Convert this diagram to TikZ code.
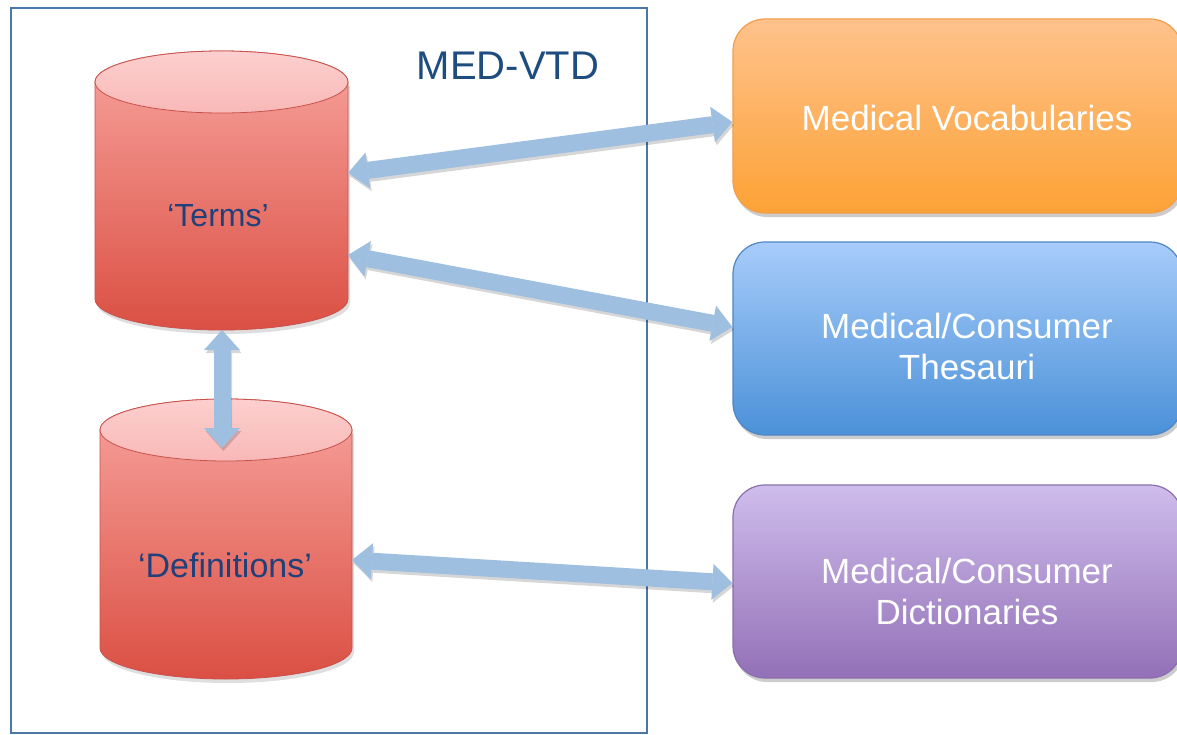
\documentclass[tikz,border=0pt]{standalone}
\usepackage{fontspec}
\setmainfont{Liberation Sans}
\usetikzlibrary{arrows.meta,shadows}
\definecolor{frameC}{HTML}{4B76A8}
\definecolor{cylTopA}{HTML}{FCCFCE}
\definecolor{cylTopB}{HTML}{F8B9B7}
\definecolor{cylBodyA}{HTML}{F7A39D}
\definecolor{cylBodyB}{HTML}{DB4F43}
\definecolor{cylBorder}{HTML}{C9514B}
\definecolor{arrowC}{HTML}{9EBFE0}
\definecolor{orangeA}{HTML}{FEC28C}
\definecolor{orangeB}{HTML}{FDA236}
\definecolor{orangeBorder}{HTML}{F29E4C}
\definecolor{blueA}{HTML}{A7CCFA}
\definecolor{blueB}{HTML}{4B91D8}
\definecolor{blueBorder}{HTML}{4F86C6}
\definecolor{purpA}{HTML}{CFBDEC}
\definecolor{purpB}{HTML}{9370B7}
\definecolor{purpBorder}{HTML}{8A6FAC}
\definecolor{medvtdC}{HTML}{1F4C7F}
\definecolor{termC}{HTML}{21407A}
\newcommand\drawcyl[5]{%
 \fill[black,opacity=0.13] ({#1-#4+2},{#2+4}) -- ({#1-#4+2},{#3+4}) arc[start angle=180,end angle=360,x radius=#4pt,y radius=#5pt] -- ({#1+#4+2},{#2+4}) -- cycle;
 \path[draw=cylBorder, line width=0.8pt, top color=cylBodyA, bottom color=cylBodyB] ({#1-#4},#2) -- ({#1-#4},#3) arc[start angle=180,end angle=360,x radius=#4pt,y radius=#5pt] -- ({#1+#4},#2) arc[start angle=0,end angle=180,x radius=#4pt,y radius=#5pt] -- cycle;
 \path[draw=cylBorder, line width=0.8pt, top color=cylTopA, bottom color=cylTopB] (#1,#2) ellipse[x radius=#4pt, y radius=#5pt];
}
\newcommand\dblarrow[2]{%
 \begin{scope}[transparency group, opacity=0.16, transform canvas={shift={(1.5pt,-3pt)}}]
   \draw[bigarrow, draw=black] #1 -- #2;
 \end{scope}
 \draw[bigarrow] #1 -- #2;}
\begin{document}
\begin{tikzpicture}[x=1pt,y=-1pt,
  cylarea/.style={inner sep=0pt, outer sep=0pt},
  cyltext/.style={text=termC, inner sep=0pt},
  srcbox/.style={rounded corners=32pt, line width=1.2pt, minimum width=449pt, inner sep=0pt,
     drop shadow={shadow xshift=2pt, shadow yshift=-4pt, opacity=0.2, fill=black}},
  srctext/.style={text=white, align=center, inner sep=0pt, font=\fontsize{35}{41}\selectfont},
  bigarrow/.style={draw=arrowC, line width=17pt,
     {Triangle[width=36pt,length=20pt,line width=0pt]}-{Triangle[width=36pt,length=20pt,line width=0pt]}}]
\useasboundingbox (0,0) rectangle (1177,734);
\fill[white] (0,0) rectangle (1177,734);
\node[draw=frameC, line width=1.8pt, minimum width=636pt, minimum height=725pt, inner sep=0pt] (frame) at (329,370.5) {};
\drawcyl{221.5}{82}{299}{126.5}{31}
\drawcyl{226}{430}{648}{126}{31}
\node[cylarea, minimum width=253pt, minimum height=279pt] (terms) at (221.5,190.5) {};
\node[cylarea, minimum width=252pt, minimum height=280pt] (defs) at (226,539) {};
\coordinate (defstop) at (222,448);
\node[srcbox, draw=orangeBorder, top color=orangeA, bottom color=orangeB, minimum height=194pt] (vocab) at (957.5,116) {};
\node[srcbox, draw=blueBorder, top color=blueA, bottom color=blueB, minimum height=193pt] (thes) at (957.5,338.5) {};
\node[srcbox, draw=purpBorder, top color=purpA, bottom color=purpB, minimum height=193pt] (dict) at (957.5,581.5) {};
\dblarrow{(terms.east |- 0,173)}{(vocab.west |- 0,122)}
\dblarrow{(terms.east |- 0,255)}{(thes.west |- 0,327)}
\dblarrow{(defs.east |- 0,560)}{(dict.west |- 0,583)}
\dblarrow{(222,0 |- terms.south)}{(defstop)}
\node[text=medvtdC, inner sep=0pt, font=\fontsize{40}{48}\selectfont] (title) at (508,66) {MED-VTD};
\node[cyltext, font=\fontsize{32}{38}\selectfont] (termstxt) at (218,215.5) {‘Terms’};
\node[cyltext, font=\fontsize{34}{40}\selectfont] (defstxt) at (225,565) {‘Definitions’};
\node[srctext] (vocabtxt) at (967,117.5) {Medical Vocabularies};
\node[srctext] (thestxt) at (967,346) {Medical/Consumer\\Thesauri};
\node[srctext] (dicttxt) at (967,591.5) {Medical/Consumer\\Dictionaries};
\end{tikzpicture}
\end{document}
